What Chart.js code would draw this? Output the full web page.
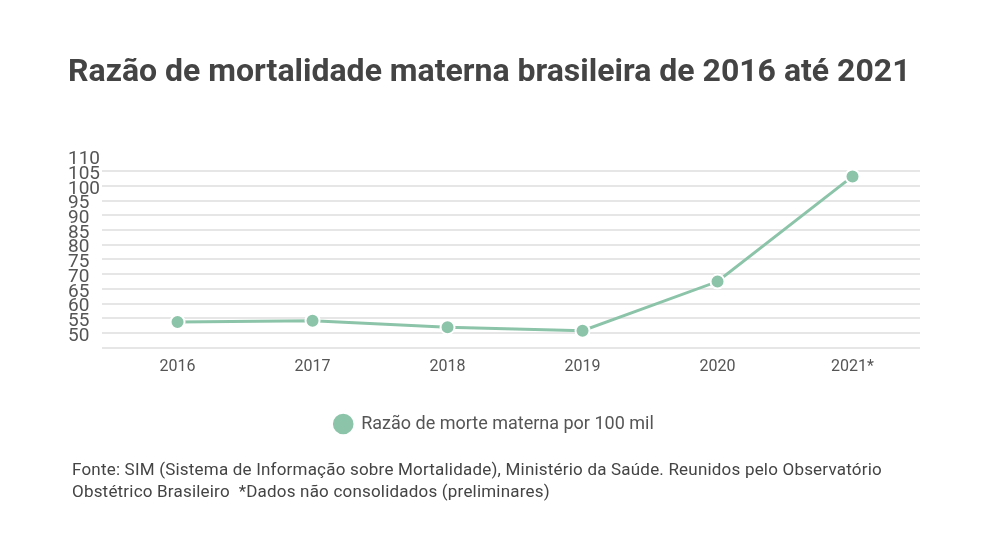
<!doctype html>
<html lang="pt-BR">
<head>
  <meta charset="utf-8">
  <title>Razão de mortalidade materna</title>
  <script src="https://cdn.jsdelivr.net/npm/chart.js"></script>
  <style>
    body { margin: 0; background: #fff; font-family: Roboto, sans-serif; }
    #wrap { position: relative; width: 1000px; height: 560px; }
    #note { position: absolute; left: 72px; top: 458px; font-size: 17px; letter-spacing: 0.2px; line-height: 22px; color: #444; }
  </style>
</head>
<body>
  <div id="wrap">
    <canvas id="mmChart" width="1000" height="560"></canvas>
    <div id="note">Fonte: SIM (Sistema de Informação sobre Mortalidade), Ministério da Saúde. Reunidos pelo Observatório<br>Obstétrico Brasileiro&nbsp; *Dados não consolidados (preliminares)</div>
  </div>

  <script>
    // values
    const years = ['2016', '2017', '2018', '2019', '2020', '2021*'];
    const ratios = [53.8, 54.2, 52.0, 50.8, 67.5, 103.2];
    const seriesLabel = 'Razão de morte materna por 100 mil';
    const green = '#8cc4a9';

    const ctx = document.getElementById('mmChart').getContext('2d');
    new Chart(ctx, {
      type: 'line',
      data: {
        labels: years,
        datasets: [{
          label: seriesLabel,
          data: ratios,
          borderColor: green,
          backgroundColor: green,
          borderWidth: 3,
          pointRadius: 7,
          pointBackgroundColor: green,
          pointBorderColor: '#fff',
          pointBorderWidth: 2,
          pointStyle: 'circle',
          tension: 0
        }]
      },
      options: {
        responsive: false,
        animation: false,
        layout: { padding: { left: 68, right: 80, top: 0, bottom: 117 } },
        scales: {
          x: {
            offset: true,
            grid: { display: false },
            border: { display: false },
            ticks: { color: '#555', font: { family: 'Roboto', size: 16 }, padding: 2 }
          },
          y: {
            min: 45,
            max: 110,
            border: { display: false },
            grid: {
              drawTicks: true,
              tickLength: 8,
              lineWidth: 2,
              color: c => c.tick && c.tick.value === 110 ? 'rgba(0,0,0,0)' : '#e6e6e6'
            },
            ticks: {
              stepSize: 5,
              autoSkip: false,
              crossAlign: 'far',
              padding: 1,
              labelOffset: 3,
              color: '#555',
              font: { family: 'Roboto', size: 19 },
              callback: v => v === 45 ? '' : v
            }
          }
        },
        plugins: {
          title: {
            display: true,
            text: 'Razão de mortalidade materna brasileira de 2016 até 2021',
            align: 'start',
            color: '#444',
            font: { family: 'Roboto', size: 32, weight: 'bold' },
            padding: { top: 54, bottom: 64 }
          },
          legend: {
            position: 'bottom',
            labels: {
              usePointStyle: true,
              boxWidth: 18,
              boxHeight: 16,
              padding: 36,
              color: '#555',
              font: { family: 'Roboto', size: 18 }
            }
          },
          tooltip: { enabled: false }
        }
      }
    });
  </script>
</body>
</html>
